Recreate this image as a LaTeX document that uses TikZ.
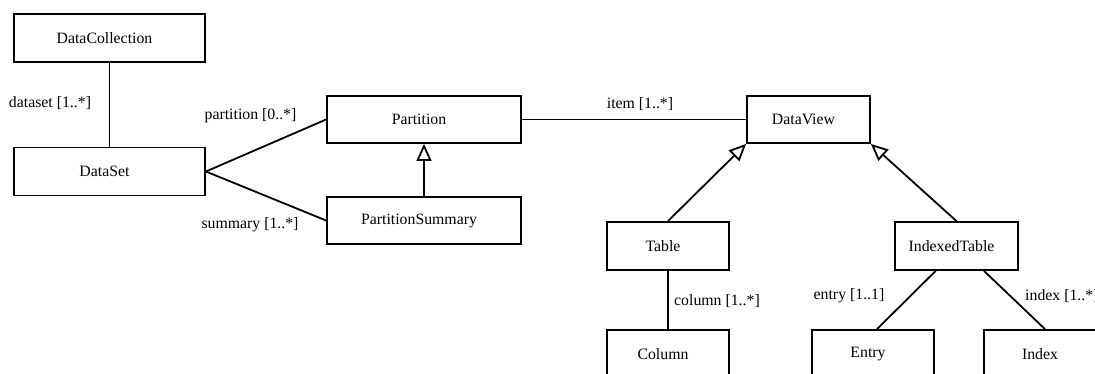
\documentclass[tikz,border=0pt]{standalone}
\usepackage{fontspec}
\setmainfont{Liberation Serif}
\usetikzlibrary{arrows.meta,calc}
\tikzset{
  cls/.style={draw, line width=1.8pt, rectangle, inner sep=0pt},
  clstext/.style={font=\fontsize{15.8}{19}\selectfont, xshift=-5pt},
  role/.style={font=\fontsize{15.8}{19}\selectfont, inner sep=0pt},
  assoc/.style={line width=1.8pt},
  gen/.style={line width=1.8pt, -{Triangle[open, length=17pt, width=15pt]}}
}
\begin{document}
\begin{tikzpicture}[x=1pt, y=-1pt]
  \useasboundingbox (0,0) rectangle (1095,374);
  \clip (0,0) rectangle (1095,374);

  % classes
  \node[cls, minimum width=191pt, minimum height=48pt] (dc) at (109.5,38) {};
  \node[clstext] at (dc) {DataCollection};
  \node[cls, minimum width=191pt, minimum height=48pt] (ds) at (109.5,171.5) {};
  \node[clstext] at (ds) {DataSet};
  \node[cls, minimum width=194pt, minimum height=47pt] (pa) at (424,119.5) {};
  \node[clstext] at (pa) {Partition};
  \node[cls, minimum width=194pt, minimum height=47pt] (ps) at (424,220.5) {};
  \node[clstext] at (ps) {PartitionSummary};
  \node[cls, minimum width=123pt, minimum height=47pt] (dv) at (808.5,119.5) {};
  \node[clstext] at (dv) {DataView};
  \node[cls, minimum width=122pt, minimum height=48pt] (tb) at (668,246) {};
  \node[clstext] at (tb) {Table};
  \node[cls, minimum width=123pt, minimum height=48pt] (it) at (956.5,246) {};
  \node[clstext] at (it) {IndexedTable};
  \node[cls, minimum width=122pt, minimum height=48pt] (co) at (668,354) {};
  \node[clstext] at (co) {Column};
  \node[cls, minimum width=122pt, minimum height=48pt] (en) at (873,354) {};
  \node[clstext] at (en) {Entry};
  \node[cls, minimum width=122pt, minimum height=48pt] (ix) at (1045,354) {};
  \node[clstext] at (ix) {Index};

  % associations
  \draw[assoc] (dc.south) -- (ds.north);
  \draw[assoc] (ds.east) -- (pa.west);
  \draw[assoc] (ds.east) -- (ps.west);
  \draw[assoc] (pa.east) -- (dv.west);
  \draw[assoc] (tb.south) -- (co.north);
  \coordinate (itl) at ($(it.south west)!0.333!(it.south east)$);
  \coordinate (itr) at ($(it.south west)!0.72!(it.south east)$);
  \draw[assoc] (itl) -- ($(en.north)+(4,0)$);
  \draw[assoc] (itr) -- (ix.north);

  % generalizations
  \draw[gen] (ps.north) -- (pa.south);
  \draw[gen] (tb.north) -- (dv.south west);
  \draw[gen] (it.north) -- (dv.south east);

  % role names
  \node[role] (l1) at (50,103) {dataset [1..*]};
  \node[role] (l2) at (250.5,116) {partition [0..*]};
  \node[role] (l3) at (250,225) {summary [1..*]};
  \node[role] (l4) at (640,104) {item [1..*]};
  \node[role] (l5) at (717,301) {column [1..*]};
  \node[role] (l6) at (849,296) {entry [1..1]};
  \node[role, anchor=west] (l7) at (1025,296) {index [1..*]};
\end{tikzpicture}
\end{document}
